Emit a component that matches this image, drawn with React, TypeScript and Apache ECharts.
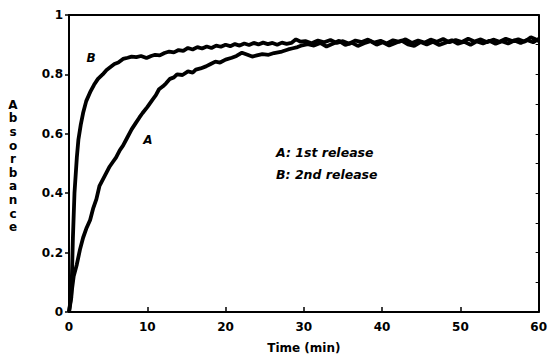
import React, { useEffect, useRef } from "react";
import * as echarts from "echarts";

const xTicks = [0, 10, 20, 30, 40, 50, 60];
const yTicks = [0, 0.2, 0.4, 0.6, 0.8, 1];

const timeA = [
  0, 0.3, 0.6, 1.0, 1.4, 1.8, 2.2, 2.7, 3.1, 3.5, 3.9, 4.4, 4.8, 5.2, 5.6, 6.0, 6.5, 6.9, 7.4, 8.0,
  8.5, 9.0, 9.4, 10.0, 10.7, 11.1, 11.5, 12.0, 12.4, 12.9, 13.4, 13.8, 14.5, 15.2, 15.8, 16.2, 16.8,
  17.5, 18.1, 18.7, 19.3, 20.0, 20.8, 21.4, 22.1, 22.8, 23.4, 24.0, 24.7, 25.5, 26.2, 27.2, 28.0,
  28.6, 29.2, 29.8, 30.5, 31.3, 32.1, 32.9, 33.7, 34.5, 35.3, 36.1, 36.9, 37.7, 38.5, 39.3, 40.1,
  40.9, 41.7, 42.5, 43.3, 44.1, 44.9, 45.7, 46.5, 47.3, 48.1, 48.9, 49.7, 50.5, 51.3, 52.1, 52.9,
  53.7, 54.5, 55.3, 56.1, 56.9, 57.7, 58.5, 59.3, 60,
];
const absA = [
  0, 0.06, 0.12, 0.16, 0.21, 0.25, 0.28, 0.31, 0.35, 0.38, 0.425, 0.45, 0.47, 0.49, 0.505, 0.52, 0.545,
  0.56, 0.585, 0.615, 0.635, 0.655, 0.67, 0.69, 0.716, 0.73, 0.75, 0.76, 0.77, 0.785, 0.79, 0.8, 0.798,
  0.81, 0.806, 0.816, 0.82, 0.827, 0.835, 0.843, 0.84, 0.85, 0.856, 0.862, 0.873, 0.866, 0.86, 0.864,
  0.868, 0.866, 0.872, 0.877, 0.884, 0.888, 0.892, 0.898, 0.902, 0.897, 0.906, 0.894, 0.903, 0.913,
  0.899, 0.907, 0.896, 0.905, 0.912, 0.9, 0.908, 0.897, 0.906, 0.914, 0.901, 0.896, 0.909, 0.901, 0.91,
  0.899, 0.907, 0.915, 0.903, 0.91, 0.9, 0.911, 0.904, 0.913, 0.903, 0.912, 0.904, 0.914, 0.906, 0.916,
  0.908, 0.92,
];

const timeB = [
  0, 0.3, 0.5, 0.7, 1.0, 1.2, 1.5, 1.8, 2.2, 2.7, 3.2, 3.7, 4.3, 4.8, 5.3, 5.8, 6.3, 6.9, 7.5, 8.0,
  8.6, 9.2, 9.9, 10.5, 11.0, 11.6, 12.2, 12.8, 13.4, 14.0, 14.6, 15.2, 15.8, 16.4, 17.0, 17.6, 18.2,
  18.8, 19.4, 20.0, 20.6, 21.2, 21.8, 22.4, 23.0, 23.6, 24.2, 24.8, 25.4, 26.0, 26.6, 27.2, 27.8,
  28.4, 29.0, 29.6, 30.2, 31.0, 31.8, 32.6, 33.4, 34.2, 35.0, 35.8, 36.6, 37.4, 38.2, 39.0, 39.8,
  40.6, 41.4, 42.2, 43.0, 43.8, 44.6, 45.4, 46.2, 47.0, 47.8, 48.6, 49.4, 50.2, 51.0, 51.8, 52.6,
  53.4, 54.2, 55.0, 55.8, 56.6, 57.4, 58.2, 59.0, 59.6, 60,
];
const absB = [
  0, 0.05, 0.25, 0.4, 0.52, 0.58, 0.63, 0.67, 0.71, 0.74, 0.765, 0.785, 0.8, 0.815, 0.825, 0.835, 0.84,
  0.852, 0.856, 0.86, 0.858, 0.862, 0.855, 0.862, 0.866, 0.864, 0.872, 0.877, 0.874, 0.882, 0.879,
  0.889, 0.884, 0.892, 0.887, 0.894, 0.889, 0.897, 0.893, 0.9, 0.895, 0.902, 0.897, 0.904, 0.899,
  0.906, 0.901, 0.907, 0.902, 0.906, 0.9, 0.907, 0.903, 0.906, 0.918, 0.91, 0.912, 0.905, 0.914,
  0.908, 0.916, 0.906, 0.912, 0.903, 0.914, 0.909, 0.917, 0.907, 0.913, 0.904, 0.915, 0.91, 0.918,
  0.906, 0.914, 0.907, 0.917, 0.91, 0.919, 0.908, 0.916, 0.909, 0.92, 0.911, 0.918, 0.908, 0.917, 0.91,
  0.92, 0.912, 0.918, 0.91, 0.925, 0.918, 0.912,
];

const curveLabels = ["A", "B"];
const legendLines = ["A: 1st release", "B: 2nd release"];
const xTitle = "Time (min)";
const yTitle = "Absorbance";

const FONT = "DejaVu Sans";

export default function App() {
  const ref = useRef<HTMLDivElement>(null);
  useEffect(() => {
    if (!ref.current) return;
    const chart = echarts.init(ref.current, null, { renderer: "svg" });
    const lineStyle = { color: "#000", width: 3.8 };
    const axisLbl = { color: "#000", fontFamily: FONT, fontWeight: "bold" as const, fontSize: 12 };
    chart.setOption({
      animation: false,
      backgroundColor: "#fff",
      grid: { left: 69, right: 8, top: 15, bottom: 45 },
      xAxis: [
        {
          type: "value",
          min: xTicks[0],
          max: xTicks[xTicks.length - 1],
          interval: 10,
          axisLine: { lineStyle: { color: "#000", width: 2 } },
          axisTick: { inside: true, length: 5, lineStyle: { color: "#000", width: 1.5 } },
          axisLabel: { ...axisLbl, margin: 9 },
          splitLine: { show: false },
          name: xTitle,
          nameLocation: "middle",
          nameGap: 30,
          nameTextStyle: { ...axisLbl, fontSize: 12 },
        },
        {
          type: "value",
          position: "top",
          min: 0,
          max: 60,
          axisLine: { show: true, onZero: false, lineStyle: { color: "#000", width: 2 } },
          axisTick: { show: false },
          axisLabel: { show: false },
          splitLine: { show: false },
        },
      ],
      yAxis: [
        {
          type: "value",
          min: yTicks[0],
          max: yTicks[yTicks.length - 1],
          interval: 0.2,
          axisLine: { show: true, lineStyle: { color: "#000", width: 2 } },
          axisTick: { show: true, inside: false, length: 4, lineStyle: { color: "#000", width: 1.5 } },
          axisLabel: { ...axisLbl, margin: 6 },
          splitLine: { show: false },
        },
        {
          type: "value",
          position: "right",
          min: 0,
          max: 1,
          interval: 0.1,
          axisLine: { show: true, onZero: false, lineStyle: { color: "#000", width: 2 } },
          axisTick: { show: true, inside: true, length: 3, lineStyle: { color: "#000", width: 1 } },
          axisLabel: { show: false },
          splitLine: { show: false },
        },
      ],
      series: [
        {
          type: "line",
          name: "A",
          data: timeA.map((t, i) => [t, absA[i]]),
          showSymbol: false,
          lineStyle,
          itemStyle: { color: "#000" },
        },
        {
          type: "line",
          name: "B",
          data: timeB.map((t, i) => [t, absB[i]]),
          showSymbol: false,
          lineStyle,
          itemStyle: { color: "#000" },
        },
      ],
      graphic: [
        {
          type: "text",
          x: 13,
          y: 98,
          style: {
            text: yTitle.split("").join("\n"),
            fontFamily: FONT,
            fontWeight: "bold",
            fontSize: 12,
            lineHeight: 13.6,
            fill: "#000",
            align: "center",
          },
        },
        {
          type: "text",
          x: 148,
          y: 140,
          style: {
            text: curveLabels[0],
            fontFamily: FONT,
            fontWeight: "bold",
            fontStyle: "italic",
            fontSize: 12,
            fill: "#000",
            align: "center",
            verticalAlign: "middle",
          },
        },
        {
          type: "text",
          x: 91,
          y: 58,
          style: {
            text: curveLabels[1],
            fontFamily: FONT,
            fontWeight: "bold",
            fontStyle: "italic",
            fontSize: 12,
            fill: "#000",
            align: "center",
            verticalAlign: "middle",
          },
        },
        ...legendLines.map((s, i) => ({
          type: "text",
          x: 276,
          y: 152 + i * 22,
          style: {
            text: s,
            fontFamily: FONT,
            fontWeight: "bold",
            fontStyle: "italic",
            fontSize: 12.5,
            fill: "#000",
            align: "left",
            verticalAlign: "middle",
          },
        })),
      ],
    });
    return () => chart.dispose();
  }, []);
  return (
    <div
      ref={ref}
      style={{ position: "fixed", left: 0, top: 0, width: 550, height: 359 }}
    />
  );
}
